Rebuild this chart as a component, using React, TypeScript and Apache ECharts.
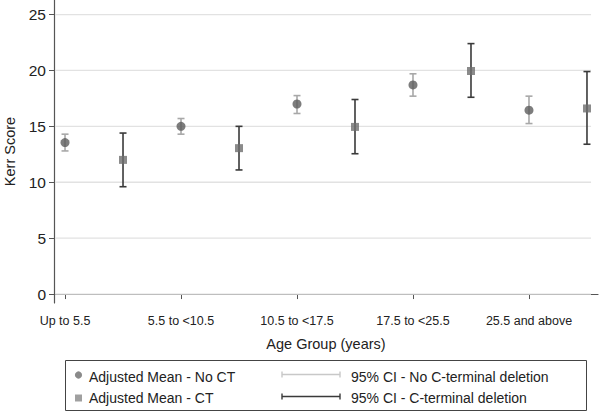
import React, { useEffect, useRef } from "react";
import * as echarts from "echarts";

const ageGroups = ["Up to 5.5", "5.5 to <10.5", "10.5 to <17.5", "17.5 to <25.5", "25.5 and above"];
const noCtPos = [1, 3, 5, 7, 9];
const ctPos = [2, 4, 6, 8, 10];
const noCtMean = [13.55, 15.0, 17.0, 18.7, 16.45];
const noCtLow = [12.8, 14.3, 16.15, 17.7, 15.25];
const noCtHigh = [14.3, 15.7, 17.75, 19.7, 17.7];
const ctMean = [12.0, 13.05, 14.95, 19.95, 16.6];
const ctLow = [9.6, 11.1, 12.55, 17.6, 13.4];
const ctHigh = [14.4, 15.0, 17.4, 22.4, 19.9];
const yTicks = [0, 5, 10, 15, 20, 25];

const X_MIN = 0.81;
const X_MAX = 10.19;
const FONT = "'Liberation Sans', Arial, sans-serif";

function errorBar(color: string, cap: number) {
  return function (params: any, api: any) {
    const x = api.value(0);
    const lo = api.coord([x, api.value(1)]);
    const hi = api.coord([x, api.value(2)]);
    const style = { stroke: color, lineWidth: 1.6, fill: "none" };
    return {
      type: "group",
      children: [
        { type: "line", shape: { x1: lo[0], y1: lo[1], x2: hi[0], y2: hi[1] }, style },
        { type: "line", shape: { x1: lo[0] - cap, y1: lo[1], x2: lo[0] + cap, y2: lo[1] }, style },
        { type: "line", shape: { x1: hi[0] - cap, y1: hi[1], x2: hi[0] + cap, y2: hi[1] }, style },
      ],
    };
  };
}

export default function App() {
  const ref = useRef<HTMLDivElement>(null);
  useEffect(() => {
    if (!ref.current) return;
    const chart = echarts.init(ref.current, null, { renderer: "svg" });
    const lightCI = "#a8a8a8";
    const darkCI = "#3a3a3a";
    const legendText = (x: number, y: number, text: string) => ({
      type: "text",
      x,
      y,
      style: { text, font: `14px ${FONT}`, fill: "#222", textVerticalAlign: "middle" },
    });
    const ciSample = (y: number, color: string) => [
      { type: "line", shape: { x1: 282, y1: y, x2: 340, y2: y }, style: { stroke: color, lineWidth: 1.4 } },
      { type: "line", shape: { x1: 282, y1: y - 3, x2: 282, y2: y + 3 }, style: { stroke: color, lineWidth: 1.4 } },
      { type: "line", shape: { x1: 340, y1: y - 3, x2: 340, y2: y + 3 }, style: { stroke: color, lineWidth: 1.4 } },
    ];
    const gridSeries = yTicks.map((v) => ({
      type: "line",
      name: "grid" + v,
      silent: true,
      symbol: "none",
      lineStyle: { color: "#e2e2e2", width: 1.3 },
      data: [
        [X_MIN + 0.02, v],
        [X_MAX - 0.12, v],
      ],
      z: 1,
    }));
    chart.setOption({
      animation: false,
      backgroundColor: "#ffffff",
      grid: { left: 54, right: 6, top: 0, bottom: 114, outerBoundsMode: "none", containLabel: false },
      xAxis: {
        type: "value",
        min: X_MIN,
        max: X_MAX,
        name: "Age Group (years)",
        nameLocation: "middle",
        nameGap: 33,
        nameTextStyle: { fontFamily: FONT, fontSize: 14.5, color: "#222" },
        axisLine: { show: true, lineStyle: { color: "#555", width: 1.2 } },
        axisTick: { show: true, length: 5, customValues: noCtPos, lineStyle: { color: "#555" } },
        axisLabel: {
          customValues: noCtPos,
          fontFamily: FONT,
          fontSize: 12.5,
          color: "#222",
          margin: 11,
          formatter: (v: number) => ageGroups[noCtPos.indexOf(Math.round(v))] ?? "",
        },
        splitLine: { show: false },
      },
      yAxis: {
        type: "value",
        min: -0.8,
        max: 26.3,
        name: "Kerr Score",
        nameLocation: "middle",
        nameGap: 36,
        nameTextStyle: { fontFamily: FONT, fontSize: 14.5, color: "#222" },
        axisLine: { show: true, lineStyle: { color: "#555", width: 1.2 } },
        axisTick: { show: true, length: 5, customValues: yTicks, lineStyle: { color: "#555" } },
        axisLabel: { customValues: yTicks, fontFamily: FONT, fontSize: 15.5, color: "#222", margin: 8 },
        splitLine: { show: false },
      },
      series: [
        ...gridSeries,
        {
          type: "custom",
          name: "95% CI - No C-terminal deletion",
          renderItem: errorBar(lightCI, 3.5),
          data: noCtPos.map((x, i) => [x, noCtLow[i], noCtHigh[i]]),
          encode: { x: 0, y: [1, 2] },
          z: 2,
        },
        {
          type: "custom",
          name: "95% CI - C-terminal deletion",
          renderItem: errorBar(darkCI, 3.5),
          data: ctPos.map((x, i) => [x, ctLow[i], ctHigh[i]]),
          encode: { x: 0, y: [1, 2] },
          z: 2,
        },
        {
          type: "scatter",
          name: "Adjusted Mean - No CT",
          symbol: "circle",
          symbolSize: 9,
          itemStyle: { color: "#5c5c5c" },
          data: noCtPos.map((x, i) => [x, noCtMean[i]]),
          z: 3,
        },
        {
          type: "scatter",
          name: "Adjusted Mean - CT",
          symbol: "rect",
          symbolSize: 8,
          itemStyle: { color: "#6e6e6e" },
          data: ctPos.map((x, i) => [x, ctMean[i]]),
          z: 3,
        },
      ],
      graphic: [
        { type: "rect", shape: { x: 65.5, y: 360.5, width: 521, height: 50 }, style: { fill: "none", stroke: "#444", lineWidth: 1 } },
        { type: "circle", shape: { cx: 78.5, cy: 375, r: 3.6 }, style: { fill: "#8a8a8a" } },
        { type: "rect", shape: { x: 75, y: 394.5, width: 7, height: 7 }, style: { fill: "#a0a0a0" } },
        legendText(89, 376.5, "Adjusted Mean - No CT"),
        legendText(89, 398, "Adjusted Mean - CT"),
        ...ciSample(374.5, "#c8c8c8"),
        ...ciSample(396.5, "#3a3a3a"),
        legendText(351, 376.5, "95% CI - No C-terminal deletion"),
        legendText(351, 398, "95% CI - C-terminal deletion"),
      ],
    });
    return () => chart.dispose();
  }, []);
  return (
    <div
      ref={ref}
      style={{ position: "absolute", left: 0, top: 0, width: 604, height: 417, background: "#fff" }}
    />
  );
}
